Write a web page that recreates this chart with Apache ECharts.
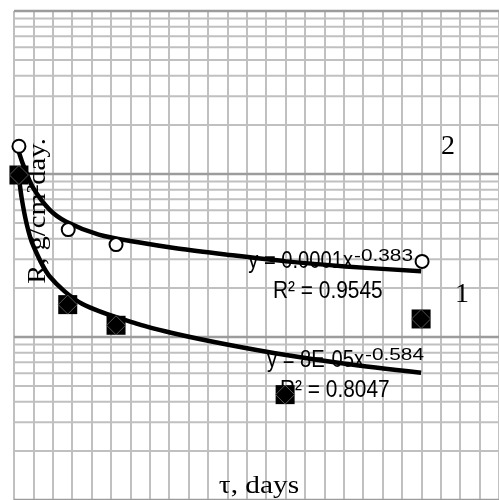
<!DOCTYPE html>
<html><head><meta charset="utf-8">
<script src="https://cdn.jsdelivr.net/npm/echarts@6/dist/echarts.min.js"></script>
<style>html,body{margin:0;padding:0;background:#fff}#c{width:499px;height:500px}</style>
</head><body><div id="c"></div>
<script>
// Series 2 (open circles) and series 1 (filled squares)
const circleX = [5.1, 55.9, 105.2, 420.7];
const circleY = [1.48e-4, 4.56e-5, 3.69e-5, 2.91e-5];
const squareX = [5.1, 55.4, 105.2, 279.5, 419.7];
const squareY = [9.86e-5, 1.58e-5, 1.18e-5, 4.43e-6, 1.29e-5];
// Trend curves
const fit2X = [4.1, 9.2, 19.3, 36.6, 53.9, 87.4, 128.1, 168.7, 219.5, 280.5, 341.5, 419.7];
const fit2Y = [1.42e-4, 1.15e-4, 8.3e-5, 6.05e-5, 5.1e-5, 4.25e-5, 3.81e-5, 3.49e-5, 3.2e-5, 2.91e-5, 2.71e-5, 2.53e-5];
const fit1X = [5.1, 8.1, 13.2, 19.3, 36.6, 70.1, 128.1, 168.7, 219.5, 280.5, 341.5, 419.7];
const fit1Y = [9.5e-5, 7.0e-5, 4.9e-5, 3.7e-5, 2.36e-5, 1.6e-5, 1.2e-5, 1.04e-5, 9.0e-6, 7.75e-6, 6.85e-6, 6.03e-6];
// Log grid (graph-paper lines)
const decades = [1e-6, 1e-5, 1e-4, 1e-3];
const minorSteps = [2, 3, 4, 5, 6, 7, 8, 9];
// Texts
const yTitle = 'R, g/cm²day.';
const xTitle = 'τ, days';
const eq2Main = 'y = 0.0001x', eq2Sup = '-0.383', r2Text2 = 'R² = 0.9545';
const eq1Main = 'y = 8E-05x', eq1Sup = '-0.584', r2Text1 = 'R² = 0.8047';
const label2 = '2', label1 = '1';

const zip = (a, b) => a.map((v, i) => [v, b[i]]);
const hLines = [];
decades.forEach((d, i) => {
  hLines.push([0, d, 1]);
  if (i < decades.length - 1) minorSteps.forEach(m => hLines.push([0, +(d * m).toPrecision(3), 0]));
});

const gray = '#c0c0c0';
const dark = '#9c9c9c';
const serif = '"Liberation Serif", "Times New Roman", serif';
const sans = '"Liberation Sans", Arial, sans-serif';
const txt = (text, x, y, size, family, align, extra) => Object.assign({
  type: 'text', x: x, y: y, z: 1, silent: true,
  style: { text: text, fontSize: size, fontFamily: family, fill: '#000', align: align, verticalAlign: 'middle' }
}, extra || {});

const chart = echarts.init(document.getElementById('c'), null, { renderer: 'canvas' });
chart.setOption({
  animation: false,
  grid: { left: 14, top: 11, width: 491.67, height: 492, containLabel: false },
  xAxis: {
    type: 'value', min: 0, max: 500, interval: 20,
    axisLine: { show: false }, axisTick: { show: false }, axisLabel: { show: false },
    splitLine: { show: true, lineStyle: { color: gray, width: 2 } }
  },
  yAxis: {
    type: 'log', logBase: 10, min: 1e-6, max: 1e-3,
    axisLine: { show: false }, axisTick: { show: false }, axisLabel: { show: false },
    splitLine: { show: false }
  },
  graphic: { elements: [
    txt(yTitle, 38, 211, 26, serif, 'center', { rotation: Math.PI / 2, scaleX: 1.1 }),
    txt(xTitle, 259, 486, 26, serif, 'center', { scaleX: 1.13 }),
    txt(label2, 448, 147, 28, serif, 'center'),
    txt(label1, 462, 295, 28, serif, 'center'),
    txt(eq2Main, 353, 261, 24, sans, 'right', { scaleX: 0.84 }),
    txt(eq2Sup, 354, 257, 16, sans, 'left', { scaleX: 1.3 }),
    txt(r2Text2, 273, 291, 24, sans, 'left', { scaleX: 0.87 }),
    txt(eq1Main, 364, 360, 24, sans, 'right', { scaleX: 0.84 }),
    txt(eq1Sup, 365, 356, 16, sans, 'left', { scaleX: 1.3 }),
    txt(r2Text1, 280, 390, 24, sans, 'left', { scaleX: 0.87 })
  ] },
  series: [
    { type: 'custom', data: hLines, z: 0, silent: true, clip: false,
      renderItem: function (params, api) {
        const cs = params.coordSys;
        const y = api.coord([0, api.value(1)])[1];
        const major = api.value(2) === 1;
        return { type: 'line', shape: { x1: cs.x, y1: y, x2: cs.x + cs.width, y2: y },
          style: { stroke: major ? dark : gray, lineWidth: major ? 2.5 : 2 } };
      } },
    { type: 'line', data: zip(fit2X, fit2Y), z: 3, showSymbol: false, smooth: 0.3,
      lineStyle: { color: '#000', width: 4.5 } },
    { type: 'line', data: zip(fit1X, fit1Y), z: 3, showSymbol: false, smooth: 0.3,
      lineStyle: { color: '#000', width: 4.5 } },
    { type: 'scatter', data: zip(circleX, circleY), z: 4, symbol: 'circle', symbolSize: 13,
      itemStyle: { color: '#fff', borderColor: '#000', borderWidth: 2, opacity: 1 } },
    { type: 'scatter', data: zip(squareX, squareY), z: 4, symbol: 'rect', symbolSize: 19,
      itemStyle: { color: '#000', opacity: 1 } },
    { type: 'scatter', data: zip(squareX, squareY), z: 5, symbol: 'diamond', symbolSize: 19,
      itemStyle: { color: 'rgba(0,0,0,0)', borderColor: '#6a6a6a', borderWidth: 0.8, opacity: 1 } }
  ]
});
</script></body></html>
